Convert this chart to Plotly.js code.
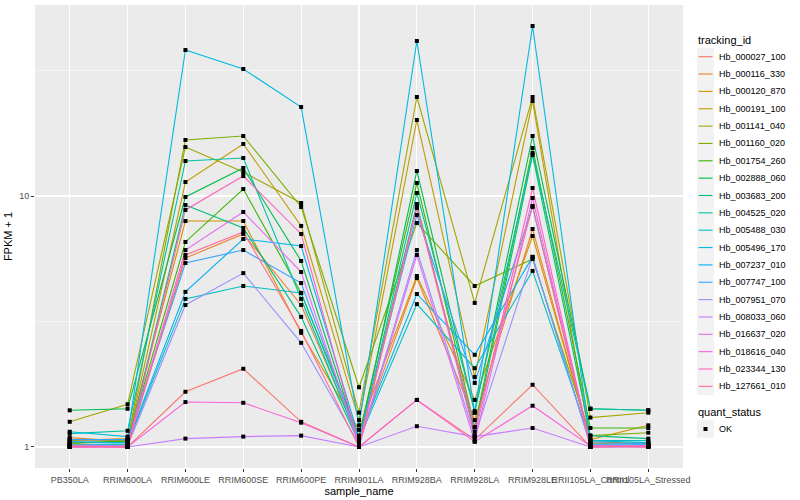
<!DOCTYPE html>
<html><head><meta charset="utf-8">
<script src="https://cdn.plot.ly/plotly-3.0.1.min.js"></script>
<style>body{margin:0;background:#fff;}#chart{width:800px;height:500px;}</style>
</head><body><div id="chart"></div>
<script>
const samples = ["PB350LA","RRIM600LA","RRIM600LE","RRIM600SE","RRIM600PE","RRIM901LA","RRIM928BA","RRIM928LA","RRIM928LE","RRII105LA_Control","RRII105LA_Stressed"];
const trackingIds = ["Hb_000027_100","Hb_000116_330","Hb_000120_870","Hb_000191_100","Hb_001141_040","Hb_001160_020","Hb_001754_260","Hb_002888_060","Hb_003683_200","Hb_004525_020","Hb_005488_030","Hb_005496_170","Hb_007237_010","Hb_007747_100","Hb_007951_070","Hb_008033_060","Hb_016637_020","Hb_018616_040","Hb_023344_130","Hb_127661_010"];
const colors = ["#F8766D","#EA8331","#D89000","#C09B00","#A3A500","#7CAE00","#39B600","#00BB4E","#00BF7D","#00C1A3","#00BFC4","#00BAE0","#00B0F6","#35A2FF","#9590FF","#C77CFF","#E76BF3","#FA62DB","#FF62BC","#FF6C91"];
const quantStatus = "OK";

// FPKM + 1 per sample (same order as samples)
const Hb_000027_100 = [1.01, 1.00, 1.66, 2.05, 1.26, 1.00, 1.54, 1.07, 1.77, 1.00, 1.00];
const Hb_000116_330 = [1.09, 1.05, 5.66, 7.06, 3.68, 1.07, 4.71, 1.28, 7.39, 1.05, 1.03];
const Hb_000120_870 = [1.06, 1.08, 7.95, 7.95, 2.85, 1.17, 4.80, 1.54, 6.93, 1.07, 1.22];
const Hb_000191_100 = [1.07, 1.06, 11.37, 16.12, 7.60, 1.28, 20.08, 1.90, 23.90, 1.03, 1.04];
const Hb_001141_040 = [1.26, 1.48, 15.67, 12.46, 9.38, 1.37, 24.80, 3.75, 24.80, 1.31, 1.37];
const Hb_001160_020 = [1.03, 1.06, 16.72, 17.34, 9.04, 1.73, 7.81, 4.38, 5.61, 1.11, 1.14];
const Hb_001754_260 = [1.04, 1.05, 6.56, 10.66, 4.11, 1.11, 11.27, 1.20, 15.53, 1.19, 1.19];
const Hb_002888_060 = [1.40, 1.42, 9.91, 12.93, 5.51, 1.05, 12.58, 1.37, 17.34, 1.42, 1.40];
const Hb_003683_200 = [1.02, 1.02, 9.21, 7.46, 3.30, 1.04, 9.29, 1.15, 14.57, 1.11, 1.08];
const Hb_004525_020 = [1.13, 1.16, 13.79, 14.17, 3.89, 1.04, 10.28, 1.39, 14.84, 1.42, 1.40];
const Hb_005488_030 = [1.02, 1.03, 3.89, 4.38, 4.11, 1.07, 3.71, 2.06, 5.03, 1.06, 1.06];
const Hb_005496_170 = [1.15, 1.10, 38.16, 32.07, 22.62, 1.22, 41.45, 1.37, 47.57, 1.06, 1.04];
const Hb_007237_010 = [1.05, 1.04, 4.15, 6.74, 6.32, 1.09, 4.07, 2.33, 5.72, 1.02, 1.02];
const Hb_007747_100 = [1.07, 1.07, 5.41, 6.09, 4.50, 1.07, 8.40, 1.80, 9.04, 1.04, 1.03];
const Hb_007951_070 = [1.02, 1.01, 3.68, 4.93, 2.60, 1.02, 6.09, 1.10, 5.72, 1.01, 1.01];
const Hb_008033_060 = [1.00, 1.00, 1.08, 1.10, 1.11, 1.00, 1.21, 1.10, 1.19, 1.00, 1.00];
const Hb_016637_020 = [1.00, 1.01, 6.09, 8.64, 4.98, 1.01, 5.82, 1.05, 9.82, 1.00, 1.01];
const Hb_018616_040 = [1.00, 1.00, 1.51, 1.50, 1.25, 1.00, 1.54, 1.05, 1.46, 1.01, 1.01];
const Hb_023344_130 = [1.00, 1.00, 8.80, 12.01, 7.06, 1.02, 9.04, 1.11, 10.76, 1.01, 1.00];
const Hb_127661_010 = [1.01, 1.00, 5.82, 7.19, 2.90, 1.00, 8.96, 1.20, 9.13, 1.00, 1.01];

const seriesValues = [Hb_000027_100,Hb_000116_330,Hb_000120_870,Hb_000191_100,Hb_001141_040,Hb_001160_020,Hb_001754_260,Hb_002888_060,Hb_003683_200,Hb_004525_020,Hb_005488_030,Hb_005496_170,Hb_007237_010,Hb_007747_100,Hb_007951_070,Hb_008033_060,Hb_016637_020,Hb_018616_040,Hb_023344_130,Hb_127661_010];

const FONT = "Liberation Sans, Arial, sans-serif";
const traces = [];
seriesValues.forEach((vals, i) => {
  traces.push({
    x: samples, y: vals, type: 'scatter', mode: 'lines',
    name: trackingIds[i], showlegend: false,
    line: {color: colors[i], width: 1.1},
    hoverinfo: 'skip'
  });
});
const px = [], py = [];
seriesValues.forEach(vals => { vals.forEach((v, j) => { px.push(samples[j]); py.push(v); }); });
traces.push({
  x: px, y: py, type: 'scatter', mode: 'markers', name: quantStatus, showlegend: false,
  marker: {symbol: 'square', size: 4, color: '#000'}, hoverinfo: 'skip'
});

// Manual ggplot-style legend (paper coordinates derived from pixel layout)
const M = {l: 35, r: 117, t: 5, b: 32};
const PW = 800 - M.l - M.r, PH = 500 - M.t - M.b;
const fx = p => (p - M.l) / PW;
const fy = p => (500 - M.b - p) / PH;
const shapes = [], annotations = [];
const keyL = 697, keyR = 714, keyH = 17.35, first = 56.7;
annotations.push({xref: 'paper', yref: 'paper', x: fx(696), y: fy(40.5), xanchor: 'left', yanchor: 'middle',
  text: 'tracking_id', showarrow: false, font: {family: FONT, size: 11, color: '#000'}});
trackingIds.forEach((id, i) => {
  const cy = first + keyH * i;
  shapes.push({type: 'rect', xref: 'paper', yref: 'paper', x0: fx(keyL), x1: fx(keyR), y0: fy(cy - keyH / 2), y1: fy(cy + keyH / 2),
    fillcolor: '#F2F2F2', line: {width: 0}, layer: 'below'});
  shapes.push({type: 'line', xref: 'paper', yref: 'paper', x0: fx(keyL + 1.5), x1: fx(keyR - 1.5), y0: fy(cy), y1: fy(cy),
    line: {color: colors[i], width: 1.1}});
  annotations.push({xref: 'paper', yref: 'paper', x: fx(716.5), y: fy(cy), xanchor: 'left', yanchor: 'middle',
    text: id, showarrow: false, font: {family: FONT, size: 9, color: '#000'}});
});
annotations.push({xref: 'paper', yref: 'paper', x: fx(696), y: fy(412.3), xanchor: 'left', yanchor: 'middle',
  text: 'quant_status', showarrow: false, font: {family: FONT, size: 11, color: '#000'}});
const okY = 429;
shapes.push({type: 'rect', xref: 'paper', yref: 'paper', x0: fx(keyL), x1: fx(keyR), y0: fy(okY - keyH / 2), y1: fy(okY + keyH / 2),
  fillcolor: '#F2F2F2', line: {width: 0}, layer: 'below'});
shapes.push({type: 'rect', xref: 'paper', yref: 'paper', x0: fx(703.5), x1: fx(707.5), y0: fy(okY - 2), y1: fy(okY + 2),
  fillcolor: '#000', line: {width: 0}});
annotations.push({xref: 'paper', yref: 'paper', x: fx(716.5), y: fy(okY), xanchor: 'left', yanchor: 'middle',
  text: quantStatus, showarrow: false, font: {family: FONT, size: 9, color: '#000'}});

const layout = {
  width: 800, height: 500,
  margin: M,
  paper_bgcolor: '#fff', plot_bgcolor: '#EBEBEB',
  font: {family: FONT, color: '#000'},
  showlegend: false,
  shapes: shapes, annotations: annotations,
  xaxis: {
    type: 'category', range: [-0.6, 10.6],
    showgrid: true, gridcolor: '#fff', gridwidth: 1.1,
    zeroline: false, showline: false,
    ticks: 'outside', ticklen: 3, tickcolor: '#333', tickwidth: 1,
    tickfont: {family: FONT, size: 9, color: '#4D4D4D'},
    tickangle: 0,
    title: {text: 'sample_name', font: {family: FONT, size: 11, color: '#000'}, standoff: 1}
  },
  yaxis: {
    type: 'log', range: [-0.0837, 1.761],
    tickmode: 'array', tickvals: [1, 10], ticktext: ['1', '10'],
    showgrid: true, gridcolor: '#fff', gridwidth: 1.1,
    minor: {tickmode: 'array', tickvals: [3.1623, 31.623], showgrid: true, gridcolor: '#fff', gridwidth: 0.5, ticks: ''},
    zeroline: false, showline: false,
    ticks: 'outside', ticklen: 3, tickcolor: '#333', tickwidth: 1,
    tickfont: {family: FONT, size: 9, color: '#4D4D4D'},
    title: {text: 'FPKM + 1', font: {family: FONT, size: 11, color: '#000'}, standoff: 4}
  }
};
Plotly.newPlot('chart', traces, layout, {displayModeBar: false, staticPlot: true});
</script>
</body></html>
